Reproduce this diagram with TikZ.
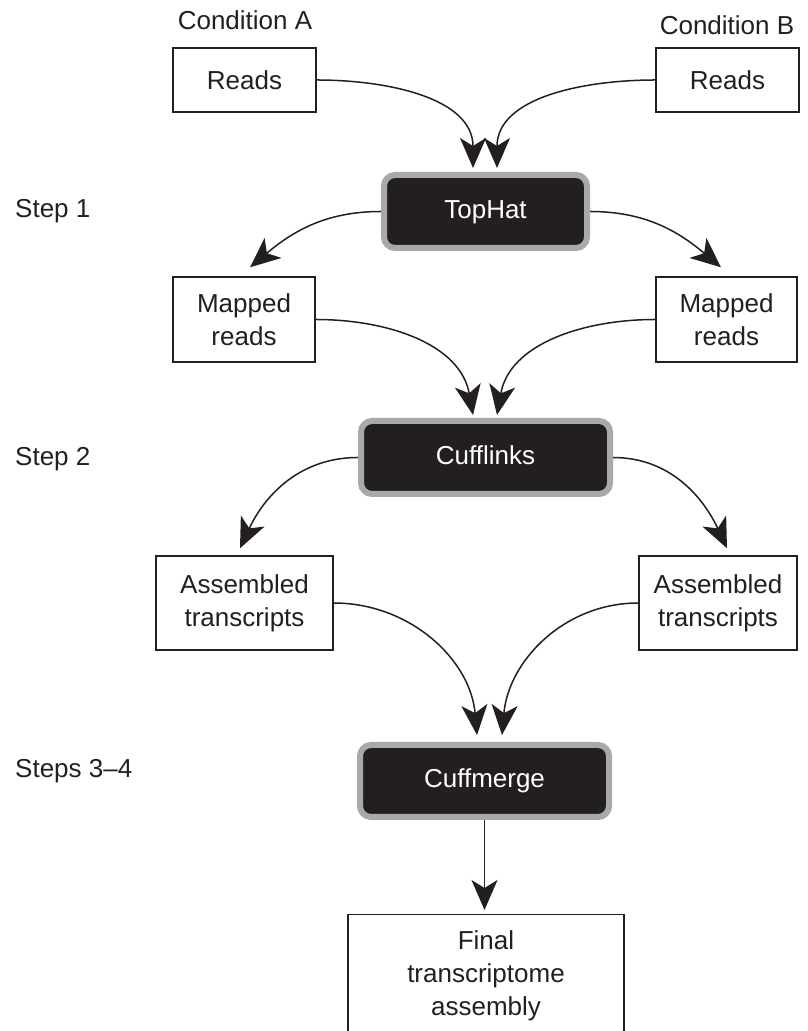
\documentclass[tikz,border=0pt]{standalone}
\usepackage{fontspec}
\setmainfont{Liberation Sans}
\usetikzlibrary{arrows.meta}
\definecolor{ink}{HTML}{231F20}
\definecolor{rim}{HTML}{A7A9AC}

\begin{document}
\begin{tikzpicture}[x=1pt,y=1pt,
  every node/.style={font=\fontsize{26}{33}\selectfont, text=ink, align=center, inner sep=0pt},
  databox/.style={draw=ink, line width=1.4pt, fill=white},
  toolbox/.style={draw=rim, fill=ink, line width=6pt, rounded corners=11pt, text=white,
                  text height=19pt, text depth=5pt},
  flow/.style={draw=ink, line width=1.5pt, -{Stealth[length=30pt,width=26pt,inset=8pt]}},
  steplabel/.style={anchor=base west}
]
\useasboundingbox (0,0) rectangle (808,1031);
\clip (0,0) rectangle (808,1031);

% inputs
\node (condA) at (245,1011) {Condition A};
\node (condB) at (727,1006) {Condition B};
\node[databox, minimum width=143pt, minimum height=64pt] (readsA) at (244.5,951) {Reads};
\node[databox, minimum width=143pt, minimum height=64pt] (readsB) at (727.5,951) {Reads};

% step 1
\node[toolbox, minimum width=203pt, minimum height=73pt] (tophat) at (485.5,819.5) {TopHat};
\node[steplabel] (s1) at (15,813) {Step 1};
\node[databox, minimum width=142pt, minimum height=85pt] (mapA) at (244,711.5) {Mapped\\reads};
\node[databox, minimum width=141pt, minimum height=85pt] (mapB) at (726.5,711.5) {Mapped\\reads};

% step 2
\node[toolbox, minimum width=249pt, minimum height=73pt] (cufflinks) at (485.5,573.5) {Cufflinks};
\node[steplabel] (s2) at (15,565) {Step 2};
\node[databox, minimum width=177pt, minimum height=94pt] (asmA) at (244.5,428) {Assembled\\transcripts};
\node[databox, minimum width=158pt, minimum height=94pt] (asmB) at (718,428) {Assembled\\transcripts};

% steps 3-4
\node[toolbox, minimum width=249pt, minimum height=72pt] (cuffmerge) at (484.5,250) {Cuffmerge};
\node[steplabel] (s3) at (15,253) {Steps 3--4};
\node[databox, minimum width=276pt, minimum height=122pt, anchor=north] (final) at (486,117)
  {Final\\transcriptome\\assembly};

% connectors
\draw[flow] (readsA.east) to[out=0,in=90] ([xshift=-12.5pt,yshift=4pt]tophat.north);
\draw[flow] (readsB.west) to[out=180,in=90] ([xshift=11.5pt,yshift=4pt]tophat.north);
\draw[flow] (tophat.west) to[out=180,in=40] ([xshift=6pt,yshift=9pt]mapA.north);
\draw[flow] (tophat.east) to[out=0,in=140] ([xshift=-5.5pt,yshift=9pt]mapB.north);
\draw[flow] (mapA.east) to[out=0,in=100] ([xshift=-12.5pt,yshift=3pt]cufflinks.north);
\draw[flow] (mapB.west) to[out=180,in=80] ([xshift=11.5pt,yshift=3pt]cufflinks.north);
\draw[flow] (cufflinks.west) to[out=180,in=65] ([xshift=-4.5pt,yshift=7pt]asmA.north);
\draw[flow] (cufflinks.east) to[out=0,in=115] ([xshift=9pt,yshift=7pt]asmB.north);
\draw[flow] (asmA.east) to[out=0,in=95] ([xshift=-7.5pt,yshift=7pt]cuffmerge.north);
\draw[flow] (asmB.west) to[out=180,in=85] ([xshift=17.5pt,yshift=7pt]cuffmerge.north);
\draw[flow] (cuffmerge.south) -- ([yshift=4pt]final.north -| cuffmerge.south);
\end{tikzpicture}
\end{document}
